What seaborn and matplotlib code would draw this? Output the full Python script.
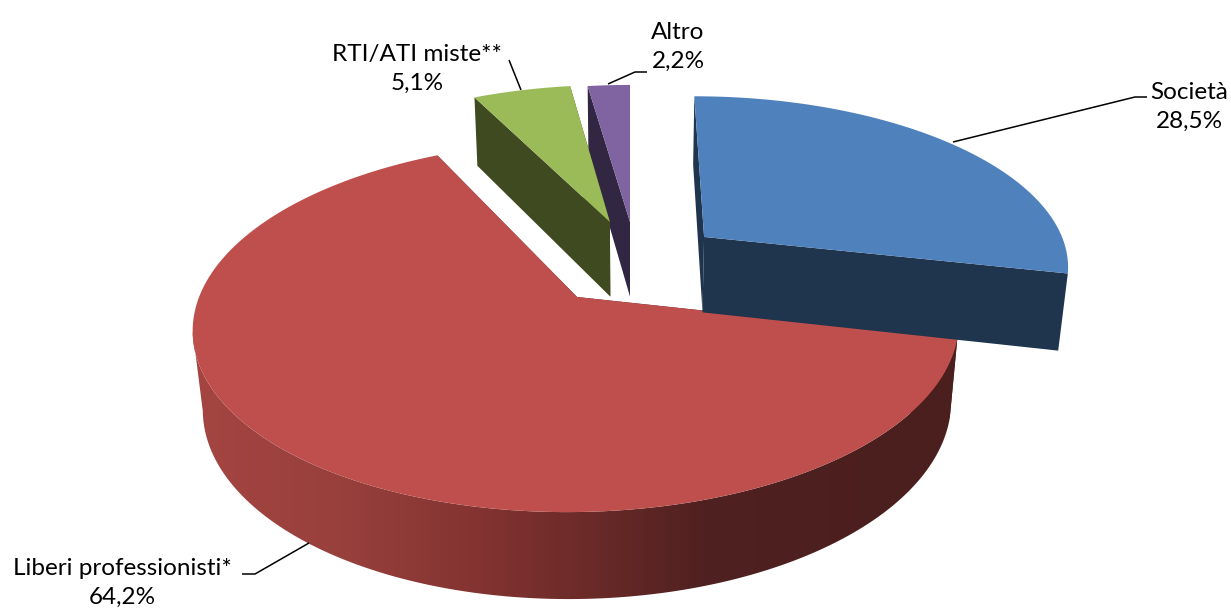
import matplotlib
matplotlib.use("Agg")
import matplotlib.pyplot as plt
from matplotlib.colors import LinearSegmentedColormap
import numpy as np
import seaborn as sns

categories = ['Società', 'Liberi professionisti*', 'RTI/ATI miste**', 'Altro']
shares = [28.5, 64.2, 5.1, 2.2]

topColors = ['#4F81BD', '#BE4F4C', '#9BBB59', '#8064A2']
sideColors = ['#1F344D', '#4A1F1E', '#3F4A21', '#312742']

# how far each slice is pulled out, in pie radii (x to the right, y to the back)
explode = {'Società': (0.207, 0.351), 'Liberi professionisti*': (-0.14, 0.0),
           'RTI/ATI miste**': (-0.057, 0.445), 'Altro': (0.0, 0.445)}

# camera for the fake 3d look, all in picture pixels
camX, camY = 630, 297
radius = 378
squash = 0.478
persp = 0.16
depthPersp = 0.023
depthPx = 80

rimCmap = LinearSegmentedColormap.from_list('rim', [
    (0.0, '#A54542'), (0.2, '#98403C'), (0.38, '#833331'),
    (0.53, '#692A28'), (0.67, '#4F2120'), (1.0, '#4A1F1E')])


def project(x, y, d=0.0):
    w = 1 + persp * y + depthPersp * d
    return camX + radius * x / w, camY + (depthPx * d - radius * squash * y) / w


def arc(name, a0, a1, d=0.0, n=200):
    ox, oy = explode[name]
    t = np.radians(np.linspace(a0, a1, n))
    return project(ox + np.sin(t), oy + np.cos(t), d)


sns.set_theme(style='white')
plt.rcParams['font.family'] = ['Lato', 'DejaVu Sans']

fig = plt.figure(figsize=(12.31, 6.10), dpi=100)
ax = fig.add_axes([0, 0, 1, 1])

edges = np.cumsum([0] + shares) / np.sum(shares) * 360

# back slices first, Società has to end up over the tip of the red one
for i in [3, 2, 1, 0]:
    name = categories[i]
    a0, a1 = edges[i], edges[i + 1]
    ox, oy = explode[name]
    px, py = project(ox, oy)
    bx, by = project(ox, oy, 1.0)
    for a in [a0, a1]:
        xt, yt = arc(name, a, a, n=1)
        xb, yb = arc(name, a, a, d=1.0, n=1)
        ax.fill([px, xt[0], xb[0], bx], [py, yt[0], yb[0], by],
                color=sideColors[i], lw=0, zorder=2)

    # curved side, only the red one shows: gradient image clipped to the band
    # the band stops at the leftmost point so its closing edge is the silhouette
    if i == 1:
        xa, ya = arc(name, a0, a1, n=800)
        leftAngle = np.linspace(a0, a1, 800)[np.argmin(xa)]
        xa, ya = arc(name, a0, leftAngle)
        xb, yb = arc(name, leftAngle, a0, d=1.0)
        band = ax.fill(np.r_[xa, xb], np.r_[ya, yb], color='none', lw=0)[0]
        img = ax.imshow(np.linspace(0, 1, 512)[None, :], cmap=rimCmap, vmin=0, vmax=1,
                        extent=[185, 960, 610, 0], aspect='auto', zorder=2)
        img.set_clip_path(band)

    xs, ys = arc(name, a0, a1)
    ax.fill(np.r_[px, xs], np.r_[py, ys], color=topColors[i], lw=0, zorder=2)

ax.set_xlim(0, 1231)
ax.set_ylim(610, 0)
ax.axis('off')

# leader lines, left to right
leaders = [
    ([309, 255, 242], [543, 574, 574]),
    ([521, 509], [90, 60]),
    ([608, 635, 647], [84, 72, 72]),
    ([953, 1135, 1147], [142, 97, 97]),
]
for lx, ly in leaders:
    ax.plot(lx, ly, color='black', lw=1.1, solid_capstyle='butt', zorder=3)

labelPos = {'Società': (1189, 107), 'Liberi professionisti*': (122, 583),
            'RTI/ATI miste**': (417, 69), 'Altro': (678, 47)}
for name, val in zip(categories, shares):
    lx, ly = labelPos[name]
    txt = f"{name}\n{val:.1f}%".replace('.', ',')
    ax.text(lx, ly, txt, ha='center', va='center', fontsize=17.5, color='black',
            linespacing=1.43, zorder=4)

fig.savefig('out.png', dpi=100)
